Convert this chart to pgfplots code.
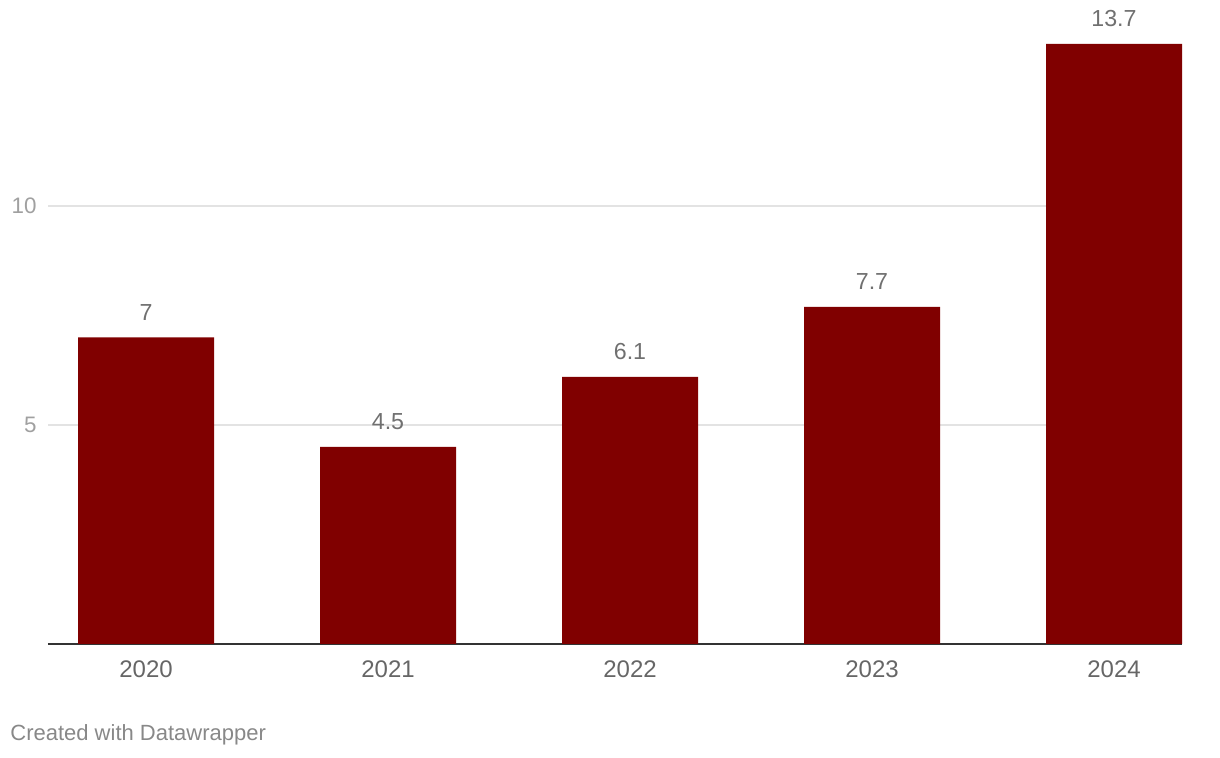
\documentclass[border=0pt]{standalone}
\usepackage{fontspec}
\setmainfont{Liberation Sans}
\usepackage{pgfplots}
\pgfplotsset{compat=1.18}
\definecolor{barred}{HTML}{800000}
\definecolor{gridgray}{HTML}{E3E3E3}
\definecolor{ytickgray}{HTML}{A0A0A0}
\definecolor{xtickgray}{HTML}{666666}
\definecolor{valgray}{HTML}{707070}
\definecolor{notegray}{HTML}{888888}
\definecolor{basegray}{HTML}{333333}
\begin{document}
\begin{tikzpicture}
\useasboundingbox (0pt,0pt) rectangle (610pt,379pt);
\begin{axis}[
  at={(24pt,57pt)}, anchor=south west,
  scale only axis, width=567pt, height=300pt,
  xmin=-0.405, xmax=4.281, ymin=0, ymax=13.7,
  ybar, bar width=68pt, bar shift=0pt,
  axis x line=bottom, axis y line=left,
  x axis line style={-, color=basegray, line width=0.65pt},
  y axis line style={draw=none},
  xtick={0,1,2,3,4},
  xticklabels={2020,2021,2022,2023,2024},
  ytick={5,10},
  major tick length=0pt,
  ymajorgrids,
  grid style={color=gridgray, line width=0.6pt},
  /pgf/number format/assume math mode=true,
  xticklabel style={anchor=base, inner sep=0pt, yshift=-17pt, text=xtickgray, font=\fontsize{12pt}{14pt}\selectfont},
  yticklabel style={anchor=east, inner sep=0pt, xshift=-5.5pt, text=ytickgray, font=\fontsize{11.2pt}{13pt}\selectfont},
  nodes near coords,
  every node near coord/.append style={anchor=base, inner sep=0pt, yshift=8.5pt, text=valgray, font=\fontsize{11.6pt}{13pt}\selectfont},
  clip=false,
]
\addplot[fill=barred, draw=none] coordinates {(0,7) (1,4.5) (2,6.1) (3,7.7) (4,13.7)};
\end{axis}
\node[anchor=base west, inner sep=0pt, text=notegray, font=\fontsize{11pt}{13pt}\selectfont] at (5pt,8.5pt) {Created with Datawrapper};
\end{tikzpicture}
\end{document}
